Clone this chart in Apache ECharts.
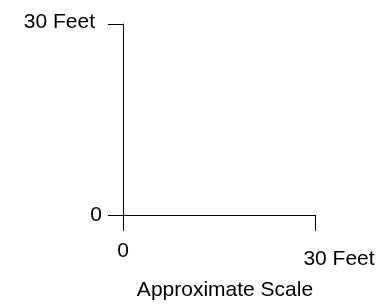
<!DOCTYPE html>
<html>
<head>
<meta charset="utf-8">
<script src="https://cdn.jsdelivr.net/npm/echarts@6/dist/echarts.min.js"></script>
<style>
  html, body { margin: 0; padding: 0; background: #ffffff; }
  #chart { width: 380px; height: 307px; }
</style>
</head>
<body>
<div id="chart"></div>
<script>
// scale extent in feet
const xRange = [0, 30];
const yRange = [0, 30];
const xLabels = ["0", "30 Feet"];
const yLabels = ["0", "30 Feet"];
const axisTitle = "Approximate Scale";

const chart = echarts.init(document.getElementById("chart"));

chart.setOption({
  animation: false,
  grid: { left: 123, right: 65, top: 24, bottom: 92 },
  xAxis: {
    type: "value",
    min: xRange[0],
    max: xRange[1],
    interval: xRange[1] - xRange[0],
    name: axisTitle,
    nameLocation: "middle",
    nameGap: 65,
    nameTextStyle: {
      color: "#000000",
      fontFamily: "Liberation Sans",
      fontSize: 21,
      padding: [0, 0, 0, 12],
    },
    axisLine: { show: true, onZero: false, lineStyle: { color: "#000000", width: 1 } },
    axisTick: { show: true, length: 16, lineStyle: { color: "#000000" } },
    splitLine: { show: false },
    axisLabel: {
      margin: 26,
      color: "#000000",
      fontFamily: "Liberation Sans",
      fontSize: 21,
      formatter: (v) => (v === xRange[0] ? xLabels[0] : "{far|" + xLabels[1] + "}"),
      rich: {
        far: {
          fontFamily: "Liberation Sans",
          fontSize: 21,
          color: "#000000",
          padding: [8, 0, 0, 48],
        },
      },
    },
  },
  yAxis: {
    type: "value",
    min: yRange[0],
    max: yRange[1],
    interval: yRange[1] - yRange[0],
    axisLine: { show: true, onZero: false, lineStyle: { color: "#000000", width: 1 } },
    axisTick: { show: true, length: 15, lineStyle: { color: "#000000" } },
    splitLine: { show: false },
    axisLabel: {
      margin: 21,
      color: "#000000",
      fontFamily: "Liberation Sans",
      fontSize: 21,
      formatter: (v) => (v === yRange[0] ? yLabels[0] : "{top|" + yLabels[1] + "}"),
      rich: {
        top: {
          fontFamily: "Liberation Sans",
          fontSize: 21,
          color: "#000000",
          padding: [0, 7, 4, 0],
        },
      },
    },
  },
  series: [{ type: "line", data: [], showSymbol: false }],
});
</script>
</body>
</html>
